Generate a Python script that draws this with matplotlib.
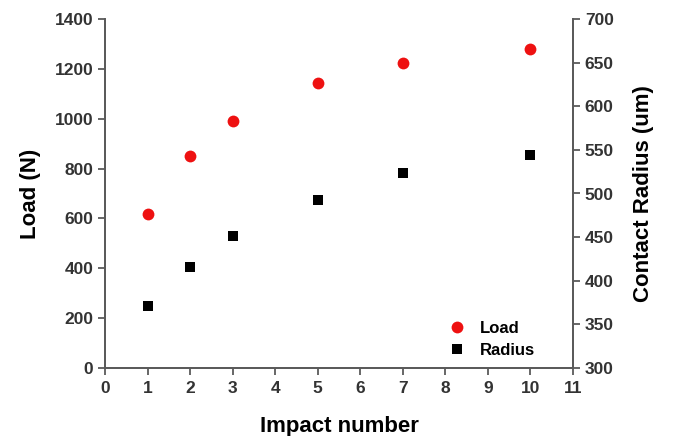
import matplotlib
matplotlib.use("Agg")
import matplotlib.pyplot as plt

# data
impact = [1, 2, 3, 5, 7, 10]
load_n = [619, 852, 990, 1144, 1223, 1281]
radius_um = [371, 416, 451, 492, 524, 544]

x_ticks = list(range(0, 12))
load_ticks = [0, 200, 400, 600, 800, 1000, 1200, 1400]
radius_ticks = [300, 350, 400, 450, 500, 550, 600, 650, 700]

plt.rcParams['font.family'] = ['Liberation Sans', 'DejaVu Sans']
plt.rcParams['font.weight'] = 'bold'

spine_col = '#5a5a5a'
tick_col = '#333333'

fig = plt.figure(figsize=(6.75, 4.36), dpi=100)
ax = fig.add_axes([105/675, 1 - 368/436, 468/675, 349/436])
ax2 = ax.twinx()

p1, = ax.plot(impact, load_n, 'o', color='#ee1111', markersize=8.5, markeredgewidth=0, label='Load')
p2, = ax2.plot(impact, radius_um, 's', color='black', markersize=7, markeredgewidth=0, label='Radius')

ax.set_xlim(0, 11)
ax.set_ylim(0, 1400)
ax2.set_ylim(300, 700)
ax.set_xticks(x_ticks)
ax.set_yticks(load_ticks)
ax2.set_yticks(radius_ticks)

for a in (ax, ax2):
    a.spines['top'].set_visible(False)
    for s in ('left', 'right', 'bottom'):
        a.spines[s].set_color(spine_col)
        a.spines[s].set_linewidth(1.3)
    a.tick_params(direction='out', length=5, width=1.3, color=spine_col,
                  labelsize=12.5, labelcolor=tick_col)
ax.tick_params(axis='x', pad=4)

ax.set_xlabel('Impact number', fontsize=16, fontweight='bold', labelpad=15)
ax.set_ylabel('Load (N)', fontsize=16, fontweight='bold', labelpad=10)
ax2.set_ylabel('Contact Radius (um)', fontsize=16, fontweight='bold', labelpad=14)

ax.legend(handles=[p1, p2], loc='lower left', bbox_to_anchor=(0.72, 0.01),
          frameon=False, fontsize=12, handlelength=1, handletextpad=0.9,
          labelspacing=0.4, borderaxespad=0)

fig.savefig('out.png', dpi=100)
